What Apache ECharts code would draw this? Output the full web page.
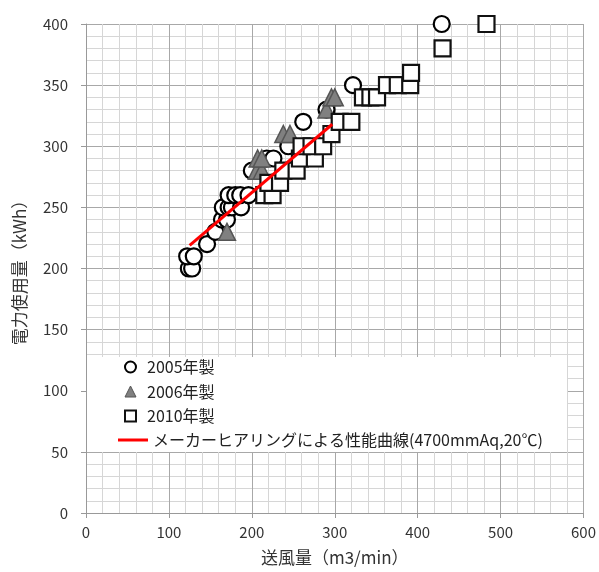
<!DOCTYPE html>
<html>
<head>
<meta charset="utf-8">
<script src="https://cdn.jsdelivr.net/npm/echarts@6/dist/echarts.min.js"></script>
<style>
  html, body { margin: 0; padding: 0; background: #fff; }
  #chart { width: 599px; height: 572px; }
</style>
</head>
<body>
<div id="chart"></div>
<script>
// 2005年製
var air2005 = [124, 128, 122, 130, 146, 156, 164, 170, 165, 172, 176, 187, 172, 180, 186, 196, 200, 218, 226, 244, 262, 290, 322, 429];
var kwh2005 = [200, 200, 210, 210, 220, 230, 240, 240, 250, 250, 250, 250, 260, 260, 260, 260, 280, 290, 290, 300, 320, 330, 350, 400];
// 2006年製
var air2006 = [170, 206, 212, 207, 212, 238, 246, 290, 296, 300];
var kwh2006 = [230, 280, 280, 290, 290, 310, 310, 330, 340, 340];
// 2010年製
var air2010 = [215, 225, 220, 234, 238, 254, 258, 276, 260, 272, 286, 296, 306, 320, 334, 343, 351, 363, 376, 391, 392, 430, 483];
var kwh2010 = [260, 260, 270, 270, 280, 280, 290, 290, 300, 300, 300, 310, 320, 320, 340, 340, 340, 350, 350, 350, 360, 380, 400];
// メーカー性能曲線
var curveAir = [125, 297];
var curveKwh = [219, 318];

var names = ["2005年製", "2006年製", "2010年製", "メーカーヒアリングによる性能曲線(4700mmAq,20℃)"];

function pairs(xs, ys) {
  return xs.map(function (x, i) { return [x, ys[i]]; });
}

var font = "'Noto Sans CJK JP', 'Noto Sans', sans-serif";
var chart = echarts.init(document.getElementById("chart"));

var option = {
  backgroundColor: "#fff",
  animation: false,
  textStyle: { fontFamily: font },
  grid: { left: 86, right: 12, top: 24, bottom: 59 },
  xAxis: {
    type: "value",
    min: 0,
    max: 600,
    interval: 100,
    name: "送風量（m3/min）",
    nameLocation: "middle",
    nameGap: 36,
    nameTextStyle: { fontSize: 17, color: "#333" },
    axisLine: { show: true, lineStyle: { color: "#999" } },
    axisTick: { show: true, length: 5, lineStyle: { color: "#999" } },
    axisLabel: { fontSize: 15, color: "#333", margin: 12 },
    splitLine: { show: true, lineStyle: { color: "#a8a8a8" } },
    minorTick: { show: false, splitNumber: 5 },
    minorSplitLine: { show: true, lineStyle: { color: "#d6d6d6" } }
  },
  yAxis: {
    type: "value",
    min: 0,
    max: 400,
    interval: 50,
    name: "電力使用量（kWh）",
    nameLocation: "middle",
    nameGap: 58,
    nameTextStyle: { fontSize: 17, color: "#333" },
    axisLine: { show: true, lineStyle: { color: "#999" } },
    axisTick: { show: true, length: 5, lineStyle: { color: "#999" } },
    axisLabel: { fontSize: 15, color: "#333", margin: 18 },
    splitLine: { show: true, lineStyle: { color: "#a8a8a8" } },
    minorTick: { show: false, splitNumber: 5 },
    minorSplitLine: { show: true, lineStyle: { color: "#d6d6d6" } }
  },
  graphic: [{
    type: "rect",
    z: 3,
    shape: { x: 87, y: 357, width: 480, height: 95 },
    style: { fill: "#fff" }
  }],
  legend: [
    {
      // マーカー凡例
      orient: "vertical",
      left: 119,
      top: 354,
      z: 10,
      itemWidth: 11,
      itemHeight: 11,
      itemGap: 8.5,
      textStyle: { fontSize: 16, color: "#222", fontFamily: font, padding: [0, 0, 0, 6] },
      data: [
        { name: names[0], icon: "circle", itemStyle: { borderWidth: 2 } },
        { name: names[1], icon: "triangle", itemStyle: { borderWidth: 1 } },
        { name: names[2], icon: "rect", itemStyle: { borderWidth: 2 } }
      ]
    },
    {
      // 性能曲線の凡例
      orient: "vertical",
      left: 113,
      top: 427,
      z: 10,
      itemWidth: 30,
      itemHeight: 3,
      textStyle: { fontSize: 16, color: "#222", fontFamily: font },
      data: [{ name: names[3], icon: "rect" }]
    }
  ],
  series: [
    {
      name: names[0],
      type: "scatter",
      symbol: "circle",
      symbolSize: 16,
      itemStyle: { color: "#fff", borderColor: "#000", borderWidth: 2.2, opacity: 1 },
      data: pairs(air2005, kwh2005)
    },
    {
      name: names[1],
      type: "scatter",
      symbol: "triangle",
      symbolSize: 17,
      itemStyle: { color: "#808080", borderColor: "#555", borderWidth: 1.5, opacity: 1 },
      data: pairs(air2006, kwh2006)
    },
    {
      name: names[2],
      type: "scatter",
      symbol: "rect",
      symbolSize: 16,
      itemStyle: { color: "#fff", borderColor: "#111", borderWidth: 2.2, opacity: 1 },
      data: pairs(air2010, kwh2010)
    },
    {
      name: names[3],
      type: "line",
      symbol: "none",
      z: 5,
      lineStyle: { color: "#ff0000", width: 3 },
      itemStyle: { color: "#ff0000" },
      data: pairs(curveAir, curveKwh)
    }
  ]
};

chart.setOption(option);
</script>
</body>
</html>
